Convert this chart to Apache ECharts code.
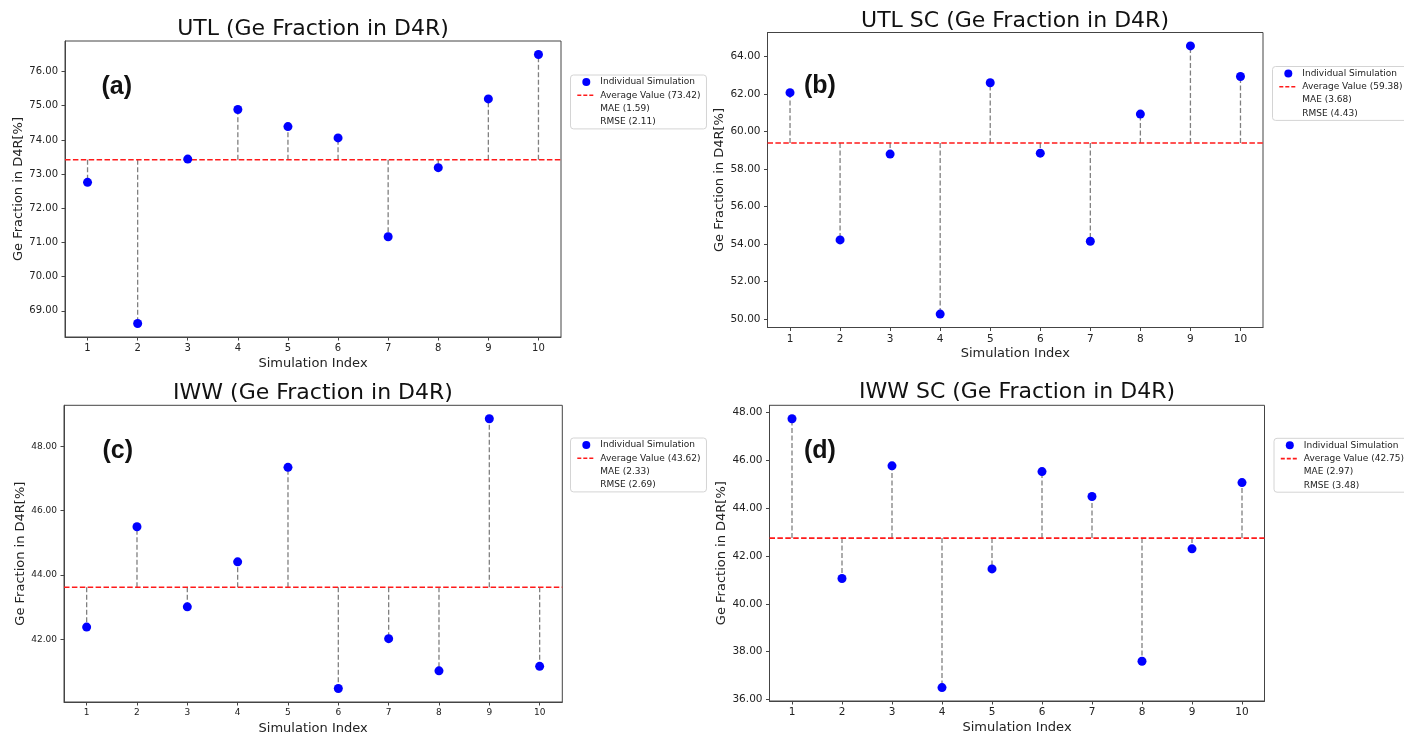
<!DOCTYPE html>
<html><head><meta charset="utf-8">
<script src="https://cdn.jsdelivr.net/npm/echarts@6/dist/echarts.min.js"></script>
<style>html,body{margin:0;padding:0;background:#fff}#chart{width:1404px;height:736px}</style>
</head><body><div id="chart"></div>
<script>
// ---------- data ----------
const simIndex = [1, 2, 3, 4, 5, 6, 7, 8, 9, 10];
const utlValues   = [72.76, 68.63, 73.44, 74.89, 74.39, 74.06, 71.17, 73.19, 75.20, 76.50];
const utlScValues = [62.06, 54.22, 58.79, 50.27, 62.59, 58.84, 54.15, 60.92, 64.55, 62.92];
const iwwValues   = [42.38, 45.50, 43.01, 44.41, 47.35, 40.47, 42.02, 41.02, 48.86, 41.16];
const iwwScValues = [47.74, 41.06, 45.77, 36.50, 41.46, 45.53, 44.49, 37.60, 42.30, 45.07];
const averages = [73.42, 59.38, 43.62, 42.75];
const maes  = [1.59, 3.68, 2.33, 2.97];
const rmses = [2.11, 4.43, 2.69, 3.48];
const titles = ['UTL (Ge Fraction in D4R)', 'UTL SC (Ge Fraction in D4R)', 'IWW (Ge Fraction in D4R)', 'IWW SC (Ge Fraction in D4R)'];
const panelLabels = ['(a)', '(b)', '(c)', '(d)'];
const yTicksA = [69, 70, 71, 72, 73, 74, 75, 76];
const yTicksB = [50, 52, 54, 56, 58, 60, 62, 64];
const yTicksC = [42, 44, 46, 48];
const yTicksD = [36, 38, 40, 42, 44, 46, 48];
const xTicks = [1, 2, 3, 4, 5, 6, 7, 8, 9, 10];
const scatterName = 'Individual Simulation';
const xName = 'Simulation Index';
const yName = 'Ge Fraction in D4R[%]';

// ---------- layout (positions / styles only) ----------
const layout = [
  {grid: {left: 65, top: 41, width: 496, height: 296}, title: [313, 29.5], label: [101.5, 87], legend: [570.5, 75], tick: 10, yGap: 40},
  {grid: {left: 767.5, top: 32.5, width: 495.5, height: 295}, title: [1015, 20.8], label: [804, 86], legend: [1272.5, 66.5], tick: 10.5, yGap: 40},
  {grid: {left: 64, top: 405.3, width: 498.3, height: 297}, title: [313, 393.3], label: [102.5, 451], legend: [570.5, 438], tick: 9, yGap: 36},
  {grid: {left: 769.5, top: 405.3, width: 495, height: 295.7}, title: [1017, 392.3], label: [804, 451], legend: [1274, 438.3], tick: 10.5, yGap: 41}
];
const panelValues = [utlValues, utlScValues, iwwValues, iwwScValues];
const panelYTicks = [yTicksA, yTicksB, yTicksC, yTicksD];
const FONT = 'DejaVu Sans';

function margins(arr) {
  const lo = Math.min(...arr), hi = Math.max(...arr), r = hi - lo;
  return [lo - 0.05 * r, hi + 0.05 * r];
}

const grids = [], xAxes = [], yAxes = [], series = [], legends = [], graphics = [];
panelValues.forEach((vals, i) => {
  const L = layout[i];
  const avg = averages[i];
  const avgName = 'Average Value (' + avg.toFixed(2) + ')';
  const maeName = 'MAE (' + maes[i].toFixed(2) + ')';
  const rmseName = 'RMSE (' + rmses[i].toFixed(2) + ')';
  const xr = margins(simIndex);
  const yr = margins(vals);
  grids.push(Object.assign({show: true, borderColor: '#444', borderWidth: 1, backgroundColor: '#fff'}, L.grid));
  xAxes.push({
    type: 'value', gridIndex: i, min: xr[0], max: xr[1],
    name: xName, nameLocation: 'middle', nameGap: 20,
    nameTextStyle: {fontSize: 13, fontFamily: FONT, color: '#222'},
    axisLine: {show: true, lineStyle: {color: '#444', width: 1}},
    axisTick: {show: true, length: 3.5, lineStyle: {color: '#444'}, customValues: xTicks},
    axisLabel: {fontSize: L.tick, fontFamily: FONT, color: '#222', margin: 6, customValues: xTicks},
    splitLine: {show: false}
  });
  yAxes.push({
    type: 'value', gridIndex: i, min: yr[0], max: yr[1],
    name: yName, nameLocation: 'middle', nameGap: L.yGap,
    nameTextStyle: {fontSize: 13, fontFamily: FONT, color: '#222'},
    axisLine: {show: true, lineStyle: {color: '#444', width: 1}},
    axisTick: {show: true, length: 3.5, lineStyle: {color: '#444'}, customValues: panelYTicks[i]},
    axisLabel: {fontSize: L.tick, fontFamily: FONT, color: '#222', margin: 7, customValues: panelYTicks[i],
      formatter: v => Number(v).toFixed(2)},
    splitLine: {show: false}
  });
  const pts = simIndex.map((x, k) => [x, vals[k]]);
  series.push({
    type: 'custom', xAxisIndex: i, yAxisIndex: i, z: 1, silent: true,
    data: pts,
    renderItem: (params, api) => {
      const x = api.value(0), y = api.value(1);
      const p1 = api.coord([x, avg]);
      const p2 = api.coord([x, y]);
      return {type: 'line', shape: {x1: p1[0], y1: p1[1], x2: p2[0], y2: p2[1]},
        style: {stroke: '#808080', lineWidth: 1.3, lineDash: [5, 2.5]}};
    }
  });
  series.push({
    type: 'line', name: avgName, xAxisIndex: i, yAxisIndex: i, z: 2, symbol: 'none', silent: true,
    data: [[xr[0], avg], [xr[1], avg]],
    lineStyle: {color: '#ff1a1a', width: 1.6, type: [5.5, 2.4]},
    itemStyle: {color: '#ff1a1a'}
  });
  series.push({
    type: 'scatter', name: scatterName, xAxisIndex: i, yAxisIndex: i, z: 3,
    symbol: 'circle', symbolSize: 9, data: pts,
    itemStyle: {color: '#0000ff', opacity: 1}
  });
  series.push({type: 'line', name: maeName, xAxisIndex: i, yAxisIndex: i, data: []});
  series.push({type: 'line', name: rmseName, xAxisIndex: i, yAxisIndex: i, data: []});
  legends.push({
    left: L.legend[0], top: L.legend[1], orient: 'vertical', selectedMode: false,
    backgroundColor: 'rgba(255,255,255,0.85)', borderColor: '#d4d4d4', borderWidth: 1, borderRadius: 3,
    padding: [2, 6, 2, 6], itemGap: 3.3, itemWidth: 18, itemHeight: 8,
    textStyle: {fontSize: 9, lineHeight: 10, color: '#222', fontFamily: FONT},
    data: [
      {name: scatterName, icon: 'circle'},
      {name: avgName, itemStyle: {opacity: 0}, lineStyle: {type: [4, 2], width: 1.6, color: '#ff1a1a'}},
      {name: maeName, icon: 'none'},
      {name: rmseName, icon: 'none'}
    ]
  });
  graphics.push({type: 'text', x: L.title[0], y: L.title[1], silent: true,
    style: {text: titles[i], align: 'center', verticalAlign: 'middle', fontSize: 22, fontFamily: FONT, fill: '#111'}});
  graphics.push({type: 'text', x: L.label[0], y: L.label[1], silent: true,
    style: {text: panelLabels[i], align: 'left', verticalAlign: 'middle', fontSize: 25, fontWeight: 'bold', fontFamily: 'Liberation Sans', fill: '#111'}});
});

const chart = echarts.init(document.getElementById('chart'), null, {renderer: 'canvas'});
chart.setOption({
  backgroundColor: '#fff',
  animation: false,
  grid: grids, xAxis: xAxes, yAxis: yAxes, series: series, legend: legends, graphic: graphics
});
</script></body></html>
